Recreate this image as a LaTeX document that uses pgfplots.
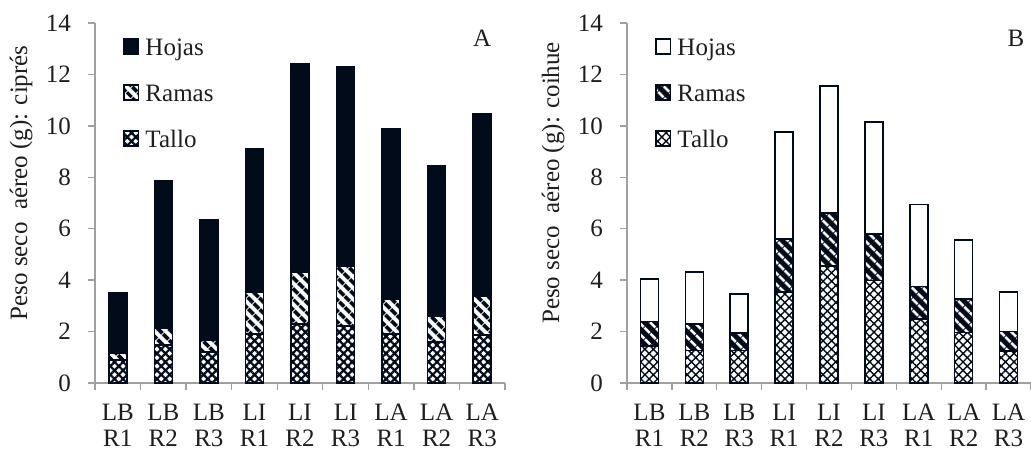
\documentclass[border=0pt]{standalone}
\usepackage{fontspec}
\setmainfont{Liberation Serif}
\usepackage{pgfplots}
\pgfplotsset{compat=1.18}
\usetikzlibrary{patterns.meta}
\definecolor{dk}{HTML}{020B1A}
\definecolor{ax}{HTML}{A0A0A0}
\definecolor{tx}{HTML}{1E1E1E}
\newcommand{\fs}{\fontsize{12.5}{13.2}\selectfont}

\pgfplotstableread{
x tallo ramas hojas
0 0.90 0.27 2.33
1 1.48 0.66 5.71
2 1.20 0.45 4.70
3 1.90 1.64 5.56
4 2.30 2.00 8.10
5 2.22 2.31 7.75
6 1.90 1.37 6.63
7 1.60 1.00 5.84
8 1.87 1.52 7.08
}\cipres

\pgfplotstableread{
x tallo ramas hojas
0 1.45 0.94 1.66
1 1.26 1.04 2.02
2 1.26 0.69 1.51
3 3.55 2.05 4.17
4 4.55 2.06 4.95
5 3.98 1.82 4.35
6 2.49 1.26 3.19
7 1.96 1.31 2.29
8 1.25 0.75 1.55
}\coihue

\pgfplotsset{
 common/.style={
  scale only axis, height=180pt,
  ybar stacked, bar width=9pt,
  xmin=-0.5, xmax=8.5, ymin=0, ymax=14,
  axis x line=bottom, axis y line=left,
  axis line style={-, ax, line width=0.7pt},
  tick align=outside, major tick length=3.5pt,
  tick style={ax, line width=0.7pt},
  xtick={-0.5,0.5,...,8.5}, xticklabels={},
  extra x ticks={0,1,2,3,4,5,6,7,8},
  extra x tick labels={{LB\\R1},{LB\\R2},{LB\\R3},{LI\\R1},{LI\\R2},{LI\\R3},{LA\\R1},{LA\\R2},{LA\\R3}},
  extra x tick style={major tick length=0pt, tick style={draw=none}},
  xticklabel style={align=center, font=\fs, text=tx, yshift=-7pt},
  ytick={0,2,...,14},
  yticklabel style={font=\fs, text=tx, xshift=-5pt},
  /pgf/number format/assume math mode=true,
  ylabel style={font=\fs, text=tx, anchor=center},
  every axis plot/.append style={draw=dk, line width=0.8pt},
  reverse legend, legend cell align=left,
  legend image code/.code={\draw[##1] (0pt,-2pt) rectangle (7.3pt,5.3pt);},
  legend style={draw=none, fill=none, inner sep=0pt, font=\fs, text=tx,
    row sep=11pt, column sep=3pt,
    nodes={inner sep=0pt, text height=9pt, text depth=3pt},
    anchor=north west},
 }
}

\begin{document}
\begin{tikzpicture}
\begin{axis}[common, width=205pt, at={(47.5pt,34pt)}, anchor=south west,
  ylabel={Peso seco\ \ aéreo (g): ciprés},
  ylabel style={at={(axis description cs:-0.18,0.556)}},
  legend style={at={(rel axis cs:0.068,0.96)}}]
\addplot[fill=white, postaction={pattern={Hatch[angle=45,distance=3pt,line width=1.1pt]}, pattern color=dk}] table[x=x,y=tallo]{\cipres};
\addplot[fill=white, postaction={pattern={Lines[angle=-45,distance=4pt,line width=2pt]}, pattern color=dk}] table[x=x,y=ramas]{\cipres};
\addplot[fill=dk] table[x=x,y=hojas]{\cipres};
\legend{Tallo,Ramas,Hojas}
\node[font=\fs, text=tx] at (rel axis cs:0.944,0.958) {A};
\end{axis}
\begin{axis}[common, width=202pt, at={(313.5pt,34pt)}, anchor=south west,
  ylabel={Peso seco\ \ aéreo (g): coihue},
  ylabel style={at={(axis description cs:-0.183,0.556)}},
  legend style={at={(rel axis cs:0.069,0.96)}}]
\addplot[fill=white, postaction={pattern={Hatch[angle=45,distance=3pt,line width=0.7pt]}, pattern color=dk}] table[x=x,y=tallo]{\coihue};
\addplot[fill=dk, postaction={pattern={Lines[angle=-45,distance=4pt,line width=1.4pt]}, pattern color=white}] table[x=x,y=ramas]{\coihue};
\addplot[fill=white] table[x=x,y=hojas]{\coihue};
\legend{Tallo,Ramas,Hojas}
\node[font=\fs, text=tx] at (rel axis cs:0.963,0.958) {B};
\end{axis}
\pgfresetboundingbox
\path[use as bounding box] (0,0) rectangle (515.5pt,225.5pt);
\end{tikzpicture}
\end{document}
